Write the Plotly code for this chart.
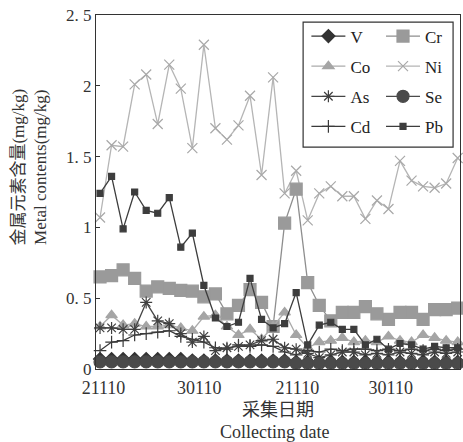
import plotly.graph_objects as go

# ---- data ----
sample_no = list(range(32))
tick_pos = [0.3, 8.6, 17.1, 25.2]
tick_labels = ["21110", "30110", "21110", "30110"]
y_tick_vals = [0, 0.5, 1, 1.5, 2, 2.5]
y_tick_text = ["0", "0. 5", "1", "1. 5", "2", "2. 5"]

V = [0.07, 0.07, 0.07, 0.07, 0.07, 0.07, 0.07, 0.07, 0.06, 0.06, 0.06, 0.06, 0.06, 0.06, 0.06, 0.06,
     0.06, 0.05, 0.05, 0.05, 0.05, 0.05, 0.05, 0.05, 0.05, 0.05, 0.05, 0.05, 0.05, 0.05, 0.05, 0.05]
Cr = [0.65, 0.66, 0.70, 0.64, 0.55, 0.58, 0.57, 0.555, 0.55, 0.51, 0.53, 0.39, 0.45, 0.56, 0.47, 0.30,
      1.03, 1.27, 0.61, 0.45, 0.34, 0.40, 0.40, 0.44, 0.39, 0.35, 0.40, 0.40, 0.35, 0.42, 0.42, 0.43]
Co = [0.30, 0.38, 0.31, 0.32, 0.30, 0.30, 0.31, 0.29, 0.27, 0.37, 0.38, 0.30, 0.24, 0.28, 0.21, 0.30,
      0.40, 0.24, 0.15, 0.19, 0.20, 0.22, 0.19, 0.20, 0.19, 0.23, 0.20, 0.19, 0.24, 0.22, 0.20, 0.19]
Ni = [1.07, 1.58, 1.57, 2.01, 2.08, 1.73, 2.15, 1.98, 1.56, 2.29, 1.70, 1.62, 1.72, 1.93, 1.37, 2.06,
      1.24, 1.40, 1.05, 1.24, 1.29, 1.22, 1.22, 1.06, 1.19, 1.13, 1.47, 1.33, 1.29, 1.28, 1.31, 1.49]
As = [0.29, 0.29, 0.28, 0.28, 0.47, 0.34, 0.32, 0.25, 0.19, 0.23, 0.13, 0.15, 0.16, 0.17, 0.20, 0.21,
      0.15, 0.14, 0.11, 0.08, 0.10, 0.12, 0.12, 0.10, 0.11, 0.10, 0.12, 0.11, 0.10, 0.12, 0.11, 0.12]
Se = [0.05, 0.05, 0.05, 0.05, 0.05, 0.05, 0.05, 0.05, 0.05, 0.05, 0.05, 0.05, 0.05, 0.05, 0.05, 0.05,
      0.05, 0.04, 0.04, 0.04, 0.04, 0.04, 0.04, 0.04, 0.04, 0.04, 0.04, 0.04, 0.04, 0.04, 0.04, 0.04]
Cd = [0.13, 0.19, 0.20, 0.24, 0.25, 0.26, 0.27, 0.23, 0.21, 0.19, 0.15, 0.14, 0.17, 0.16, 0.17, 0.16,
      0.12, 0.10, 0.13, 0.12, 0.14, 0.13, 0.14, 0.14, 0.13, 0.14, 0.13, 0.14, 0.13, 0.14, 0.13, 0.14]
Pb = [1.24, 1.36, 0.99, 1.25, 1.12, 1.10, 1.21, 0.86, 0.96, 0.59, 0.36, 0.30, 0.33, 0.64, 0.35, 0.29,
      0.32, 0.54, 0.17, 0.31, 0.33, 0.28, 0.28, 0.17, 0.21, 0.14, 0.18, 0.17, 0.14, 0.16, 0.15, 0.15]

SERIF = "Liberation Serif, Times New Roman, Noto Sans CJK SC, serif"

# name, values, line colour, marker symbol, marker size, marker colour, legend id, rank
specs = [
    ("Ni", Ni, "#b5b5b5", "x-thin-open", 10, "#a8a8a8", "legend2", 2),
    ("Cr", Cr, "#8e8e8e", "square", 12, "#9a9a9a", "legend2", 1),
    ("Co", Co, "#ababab", "triangle-up", 10, "#a5a5a5", "legend", 2),
    ("Cd", Cd, "#3a3a3a", "cross-thin-open", 9, "#3a3a3a", "legend", 4),
    ("As", As, "#454545", "asterisk-open", 10, "#404040", "legend", 3),
    ("Pb", Pb, "#3d3d3d", "square", 6, "#3d3d3d", "legend2", 4),
    ("V", V, "#333333", "diamond", 10, "#333333", "legend", 1),
    ("Se", Se, "#4a4a4a", "circle", 12, "#4a4a4a", "legend2", 3),
]

fig = go.Figure()
for name, vals, lc, sym, size, mc, leg, rank in specs:
    fig.add_trace(go.Scatter(
        x=sample_no, y=vals, name=name, mode="lines+markers",
        line=dict(color=lc, width=1.3),
        marker=dict(symbol=sym, size=size, color=mc, line=dict(color=mc, width=1.2)),
        legend=leg, legendrank=rank, legendgroup=name, cliponaxis=False,
    ))

legend_common = dict(
    font=dict(family=SERIF, size=17, color="#222"),
    bgcolor="rgba(0,0,0,0)", borderwidth=0,
    tracegroupgap=5, itemwidth=34,
    yanchor="top", xanchor="left", traceorder="grouped",
)

fig.update_layout(
    width=463, height=442,
    margin=dict(l=96, r=3, t=15, b=73),
    paper_bgcolor="white", plot_bgcolor="white",
    showlegend=True,
    legend=dict(x=0.578, y=0.99, **legend_common),
    legend2=dict(x=0.783, y=0.99, **legend_common),
    xaxis=dict(
        range=[-0.35, 31.2], tickvals=tick_pos, ticktext=tick_labels,
        showgrid=False, zeroline=False, showline=True, linecolor="#333", linewidth=1,
        mirror=True, ticks="", ticklabelstandoff=2,
        tickfont=dict(family=SERIF, size=18, color="#333"),
    ),
    yaxis=dict(
        range=[0, 2.5], tickvals=y_tick_vals, ticktext=y_tick_text,
        showgrid=False, zeroline=False, showline=True, linecolor="#333", linewidth=1,
        mirror=True, ticks="inside", ticklen=4, tickcolor="#333",
        tickfont=dict(family=SERIF, size=17, color="#333"),
    ),
    shapes=[dict(type="rect", xref="paper", yref="paper",
                 x0=0.569, x1=0.981, y0=0.627, y1=0.980,
                 line=dict(color="#333", width=1.2), fillcolor="rgba(0,0,0,0)")],
    annotations=[
        dict(text="采集日期", xref="paper", yref="paper", x=0.5, y=-0.115,
             showarrow=False, font=dict(family=SERIF, size=18, color="#333"), yanchor="middle"),
        dict(text="Collecting date", xref="paper", yref="paper", x=0.49, y=-0.178,
             showarrow=False, font=dict(family=SERIF, size=18, color="#333"), yanchor="middle"),
        dict(text="金属元素含量(mg/kg)<br>Metal contents(mg/kg)", xref="paper", yref="paper",
             x=-0.183, y=0.57, textangle=-90, showarrow=False, xanchor="center", yanchor="middle",
             font=dict(family=SERIF, size=17, color="#333")),
    ],
)

fig.write_html("out.html")
